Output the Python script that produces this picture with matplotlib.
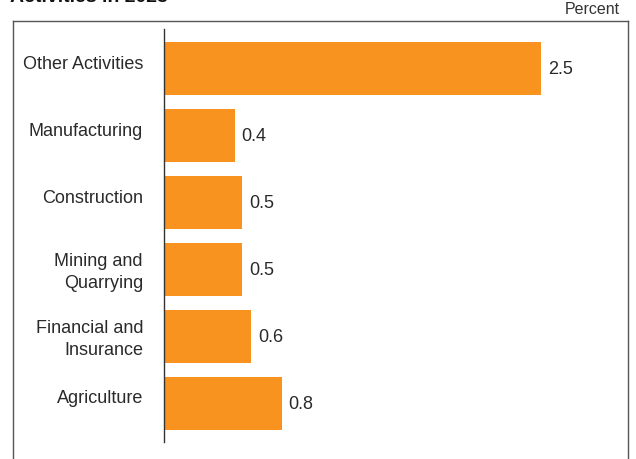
import matplotlib
matplotlib.use("Agg")
import matplotlib.pyplot as plt
from matplotlib.lines import Line2D
from matplotlib.transforms import ScaledTranslation, blended_transform_factory

categories = ["Agriculture", "Financial and\nInsurance", "Mining and\nQuarrying",
              "Construction", "Manufacturing", "Other Activities"]
values = [0.78, 0.58, 0.52, 0.52, 0.47, 2.5]
value_labels = ["0.8", "0.6", "0.5", "0.5", "0.4", "2.5"]

plt.rcParams['font.family'] = ['Liberation Sans', 'DejaVu Sans']
W, H = 636, 459
fig = plt.figure(figsize=(W/100, H/100), dpi=100)

def fx(px): return px / W
def fy(py): return 1 - py / H

left, right = 164, 164 + 2.9 * 150.8
top, bottom = 29, 442
ax = fig.add_axes([fx(left), fy(bottom), fx(right) - fx(left), fy(top) - fy(bottom)])
ypos = list(range(len(categories)))
ax.barh(ypos, values, height=0.79, color="#F7931E")
ax.set_xlim(0, 2.9)
ax.set_ylim(-0.575, 5.59)
for sp in ["top", "right", "bottom"]:
    ax.spines[sp].set_visible(False)
ax.spines["left"].set_color("#333333")
ax.spines["left"].set_linewidth(1.0)
ax.set_xticks([])
ax.set_yticks([])

trans = blended_transform_factory(ax.transAxes, ax.transData)
for y, cat in zip(ypos, categories):
    dy = 4.5 if "\n" not in cat else -3
    off = ScaledTranslation(-21 / 100, dy / 100, fig.dpi_scale_trans)
    ax.text(0, y, cat, transform=trans + off, ha="right", va="center", fontsize=13,
            color="#2a2a2a", linespacing=1.4, multialignment="right")
for y, v, lab in zip(ypos, values, value_labels):
    ax.text(v + 0.045, y - 0.02, lab, va="center", ha="left", fontsize=13, color="#2a2a2a")

# frame
c = "#555555"
fig.add_artist(Line2D([fx(13), fx(628)], [fy(21), fy(21)], color=c, lw=1.0))
fig.add_artist(Line2D([fx(13), fx(13)], [fy(21), 0], color=c, lw=1.0))
fig.add_artist(Line2D([fx(628), fx(628)], [fy(21), 0], color=c, lw=1.0))

fig.text(fx(620), fy(10), "Percent", ha="right", va="center", fontsize=11.5, color="#333333")
fig.text(fx(10), fy(1.5), "Activities in 2023", ha="left", va="baseline", fontsize=14,
         fontweight="bold", color="#111111")

fig.savefig("out.png", dpi=100)
